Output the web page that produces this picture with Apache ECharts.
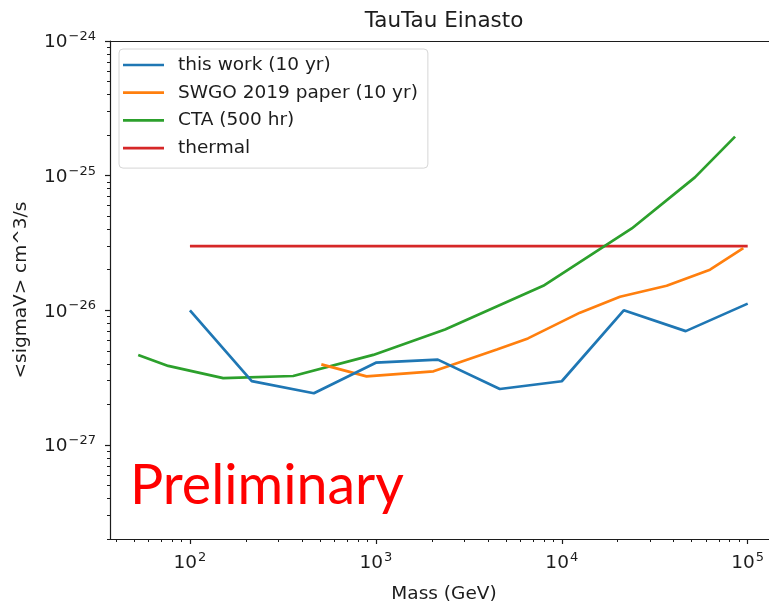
<!DOCTYPE html>
<html>
<head>
<meta charset="utf-8">
<title>TauTau Einasto</title>
<script src="https://cdn.jsdelivr.net/npm/echarts@6/dist/echarts.min.js"></script>
<style>
  html, body { margin: 0; padding: 0; background: #fff; }
  #chart { width: 769px; height: 603px; }
</style>
</head>
<body>
<div id="chart"></div>
<script>
// Dark-matter annihilation limits, tau+tau- channel, Einasto profile

// this work (10 yr)
const thisWorkMass = [100, 215, 464, 1000, 2154, 4642, 10000, 21544, 46416, 100000];
const thisWorkSigmaV = [1.0e-26, 2.98e-27, 2.42e-27, 4.08e-27, 4.3e-27, 2.6e-27, 2.97e-27, 1.0e-26, 7.0e-27, 1.12e-26];

// SWGO 2019 paper (10 yr)
const swgoMass = [509, 891, 2042, 4477, 6577, 12530, 20560, 36640, 62700, 94700];
const swgoSigmaV = [3.96e-27, 3.23e-27, 3.52e-27, 5.12e-27, 6.18e-27, 9.6e-27, 1.26e-26, 1.52e-26, 2.0e-26, 2.89e-26];

// CTA (500 hr)
const ctaMass = [52.7, 76.4, 151, 359, 968, 2355, 7950, 23800, 52000, 85500];
const ctaSigmaV = [4.66e-27, 3.86e-27, 3.13e-27, 3.25e-27, 4.66e-27, 7.2e-27, 1.52e-26, 4.05e-26, 9.7e-26, 1.95e-25];

// thermal relic cross section
const thermalMass = [100, 100000];
const thermalSigmaV = [3e-26, 3e-26];

// axis ticks (cm^3/s for the y axis)
const xMajorTicks = [100, 1000, 10000, 100000];
const xMinorTicks = [40, 50, 60, 70, 80, 90,
  200, 300, 400, 500, 600, 700, 800, 900,
  2000, 3000, 4000, 5000, 6000, 7000, 8000, 9000,
  20000, 30000, 40000, 50000, 60000, 70000, 80000, 90000];
const yMajorTicks = [1e-27, 1e-26, 1e-25, 1e-24];
const yMinorTicks = [2e-28, 3e-28, 4e-28, 5e-28, 6e-28, 7e-28, 8e-28, 9e-28,
  2e-27, 3e-27, 4e-27, 5e-27, 6e-27, 7e-27, 8e-27, 9e-27,
  2e-26, 3e-26, 4e-26, 5e-26, 6e-26, 7e-26, 8e-26, 9e-26,
  2e-25, 3e-25, 4e-25, 5e-25, 6e-25, 7e-25, 8e-25, 9e-25];

const X_MIN = Math.pow(10, 1.570);
const X_MAX = Math.pow(10, 5.163);
const Y_MIN = 2e-28;
const Y_MAX = 1e-24;

// The y axis works in units of 1e-28 cm^3/s: ECharts rounds log-axis
// tick values to 10 decimals, which would zero out 1e-27 and friends.
const Y_UNIT_EXP = -28;
const toAxisY = (v) => Math.round(v / Math.pow(10, Y_UNIT_EXP) * 1e6) / 1e6;

const FONT = 'DejaVu Sans';
const INK = '#1c1c1c';

function pairs(xs, ys) { return xs.map((x, i) => [x, toAxisY(ys[i])]); }

function powText(e) {
  const exp = (e < 0 ? '\u2212' : '') + Math.abs(e);
  return '{b|10}{s|' + exp + '}';
}
const xLabel = (v) => powText(Math.round(Math.log10(v)));
const yLabel = (v) => powText(Math.round(Math.log10(v)) + Y_UNIT_EXP);

const powRich = {
  b: { fontFamily: FONT, fontSize: 18.5, color: INK, verticalAlign: 'bottom', lineHeight: 22 },
  s: { fontFamily: FONT, fontSize: 13, color: INK, verticalAlign: 'bottom', lineHeight: 22, padding: [0, 0, 9, 1] }
};

const chart = echarts.init(document.getElementById('chart'), null, { renderer: 'canvas' });

const lineStyle = (c) => ({ color: c, width: 2.7 });

chart.setOption({
  animation: false,
  backgroundColor: '#fff',
  textStyle: { fontFamily: FONT },
  // plot box runs a little past the right edge of the canvas
  grid: { left: 110, top: 41, right: -9, bottom: 64, containLabel: false, outerBoundsMode: 'none' },
  legend: {
    orient: 'vertical', left: 119, top: 49,
    padding: [6, 10, 10, 4], itemGap: 7.7, itemWidth: 41, itemHeight: 2.7,
    icon: 'rect',
    backgroundColor: 'rgba(255,255,255,0.8)', borderColor: '#d6d6d6', borderWidth: 1, borderRadius: 4,
    textStyle: { fontFamily: FONT, fontSize: 18.5, color: INK, lineHeight: 20, padding: [0, 0, 0, 9] },
    data: ['this work (10 yr)', 'SWGO 2019 paper (10 yr)', 'CTA (500 hr)', 'thermal']
  },
  xAxis: [
    {
      type: 'log', min: X_MIN, max: X_MAX, position: 'bottom',
      name: 'Mass (GeV)', nameLocation: 'middle', nameGap: 46,
      nameTextStyle: { fontFamily: FONT, fontSize: 18.5, color: INK },
      axisLine: { show: true, lineStyle: { color: INK, width: 1.2 } },
      axisTick: { show: true, customValues: xMajorTicks, length: 5, lineStyle: { color: INK, width: 1.2 } },
      axisLabel: { show: true, customValues: xMajorTicks, margin: 12, formatter: xLabel, rich: powRich },
      splitLine: { show: false }, minorTick: { show: false }
    },
    {
      type: 'log', min: X_MIN, max: X_MAX, position: 'bottom',
      axisLine: { show: false },
      axisTick: { show: true, customValues: xMinorTicks, length: 3, lineStyle: { color: INK, width: 1 } },
      axisLabel: { show: false }, splitLine: { show: false }
    },
    {
      type: 'log', min: X_MIN, max: X_MAX, position: 'top',
      axisLine: { show: true, lineStyle: { color: INK, width: 1.2 } },
      axisTick: { show: false }, axisLabel: { show: false }, splitLine: { show: false }
    }
  ],
  yAxis: [
    {
      type: 'log', min: toAxisY(Y_MIN), max: toAxisY(Y_MAX), position: 'left',
      name: '<sigmaV> cm^3/s', nameLocation: 'middle', nameGap: 79, nameRotate: 90,
      nameTextStyle: { fontFamily: FONT, fontSize: 18.5, color: INK },
      axisLine: { show: true, lineStyle: { color: INK, width: 1.2 } },
      axisTick: { show: true, customValues: yMajorTicks.map(toAxisY), length: 5, lineStyle: { color: INK, width: 1.2 } },
      axisLabel: { show: true, customValues: yMajorTicks.map(toAxisY), margin: 14, formatter: yLabel, rich: powRich },
      splitLine: { show: false }
    },
    {
      type: 'log', min: toAxisY(Y_MIN), max: toAxisY(Y_MAX), position: 'left',
      axisLine: { show: false },
      axisTick: { show: true, customValues: yMinorTicks.map(toAxisY), length: 3, lineStyle: { color: INK, width: 1 } },
      axisLabel: { show: false }, splitLine: { show: false }
    }
  ],
  graphic: [
    {
      type: 'text', x: 444, y: 21.5, z: 10,
      style: { text: 'TauTau Einasto', fontFamily: FONT, fontSize: 21.5, fill: INK, align: 'center', verticalAlign: 'middle' }
    },
    {
      type: 'text', x: 130, y: 486, z: 10,
      style: { text: 'Preliminary', fontFamily: 'Lato', fontSize: 55.5, fill: '#ff0000', align: 'left', verticalAlign: 'middle' }
    }
  ],
  series: [
    { name: 'this work (10 yr)', type: 'line', data: pairs(thisWorkMass, thisWorkSigmaV), showSymbol: false, symbol: 'none', color: '#1f77b4', lineStyle: lineStyle('#1f77b4'), z: 4 },
    { name: 'SWGO 2019 paper (10 yr)', type: 'line', data: pairs(swgoMass, swgoSigmaV), showSymbol: false, symbol: 'none', color: '#ff7f0e', lineStyle: lineStyle('#ff7f0e'), z: 3 },
    { name: 'CTA (500 hr)', type: 'line', data: pairs(ctaMass, ctaSigmaV), showSymbol: false, symbol: 'none', color: '#2ca02c', lineStyle: lineStyle('#2ca02c'), z: 2 },
    { name: 'thermal', type: 'line', data: pairs(thermalMass, thermalSigmaV), showSymbol: false, symbol: 'none', color: '#d62728', lineStyle: lineStyle('#d62728'), z: 1 }
  ]
});
</script>
</body>
</html>
